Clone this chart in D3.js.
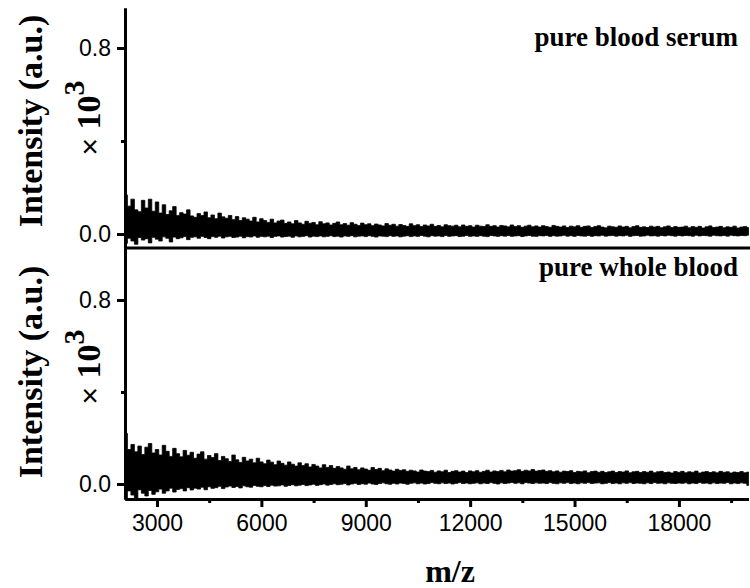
<!DOCTYPE html>
<html>
<head>
<meta charset="utf-8">
<script src="https://cdn.jsdelivr.net/npm/d3@7"></script>
<style>
  body { margin: 0; background: #fff; }
  svg { display: block; }
</style>
</head>
<body>
<svg id="chart" width="750" height="588"></svg>
<script>
// m/z bins: first bin centre and bin width (m/z units)
const binStart = 2100;
const binStep = 100;

// intensity envelope per bin (max / min), in 10^-3 units of the axis
const serumHi = [
  168,120,150,104,96,145,112,150,98,138,90,126,84,100,118,80,92,86,104,78,
  72,88,80,95,70,82,66,90,74,68,80,62,75,58,70,64,56,72,52,66,
  58,50,64,48,56,60,46,52,44,58,48,42,55,46,50,40,53,44,48,39,
  46,52,40,45,38,49,42,37,47,40,44,36,43,39,35,45,38,42,34,41,
  37,33,44,36,40,32,39,35,42,33,37,31,40,36,34,38,31,39,33,36,
  30,38,34,32,40,33,36,30,37,35,31,39,32,36,29,34,38,31,35,30,
  36,32,29,37,33,30,35,28,34,31,36,29,33,35,28,32,36,30,27,34,
  31,29,35,30,33,27,32,36,29,31,28,34,30,33,27,31,35,28,32,29,
  30,34,27,32,29,33,26,31,35,28,30,33,27,31,29,34,26,30,32,28
];
const serumLo = [
  -40,-18,-30,-44,-15,-26,-20,-38,-14,-22,-30,-12,-18,-34,-13,-20,-16,-11,-24,-14,
  -12,-18,-10,-15,-20,-11,-14,-9,-17,-12,-10,-15,-13,-9,-16,-11,-13,-8,-14,-10,
  -12,-9,-15,-10,-8,-13,-11,-9,-14,-8,-12,-10,-7,-13,-9,-11,-8,-12,-10,-7,
  -11,-9,-13,-8,-10,-7,-12,-9,-8,-11,-7,-10,-13,-8,-9,-11,-7,-10,-8,-12,
  -9,-7,-11,-8,-10,-6,-9,-12,-7,-9,-8,-11,-6,-10,-8,-7,-11,-9,-6,-10,
  -8,-10,-7,-9,-11,-6,-8,-10,-7,-9,-6,-10,-8,-7,-11,-8,-6,-9,-10,-7,
  -8,-6,-10,-7,-9,-8,-5,-9,-7,-10,-6,-8,-9,-6,-10,-7,-8,-5,-9,-7,
  -6,-9,-7,-8,-5,-10,-7,-6,-9,-8,-5,-8,-7,-9,-6,-8,-5,-7,-9,-6,
  -8,-6,-7,-9,-5,-8,-6,-7,-9,-5,-7,-8,-6,-9,-5,-7,-8,-6,-7,-5
];
const bloodHi = [
  220,150,172,140,165,128,160,176,135,150,126,168,142,120,155,132,118,146,125,138,
  112,130,140,108,124,115,132,102,120,110,98,126,105,94,116,100,108,92,112,96,
  88,104,95,84,100,90,82,96,86,78,92,80,88,74,85,78,70,84,72,80,
  68,76,70,64,78,66,72,62,70,65,60,72,63,68,58,66,61,56,64,59,
  62,55,60,57,52,61,56,54,59,51,57,53,60,50,55,58,52,56,50,57,
  53,58,51,55,60,52,57,54,59,53,61,56,58,62,55,60,57,63,56,59,
  61,55,58,53,57,51,56,54,58,50,55,53,57,49,54,56,51,55,50,53,
  56,50,54,52,57,49,53,55,50,54,51,56,49,53,55,50,52,48,54,51,
  55,49,53,51,56,48,52,54,50,53,49,55,51,53,48,52,50,54,49,52
];
const bloodLo = [
  -60,-30,-48,-66,-25,-40,-52,-28,-45,-34,-22,-40,-30,-18,-35,-24,-20,-30,-16,-26,
  -18,-22,-14,-25,-12,-19,-16,-10,-20,-13,-9,-15,-11,-17,-8,-12,-14,-6,-10,-12,
  -7,-11,-5,-9,-8,-4,-10,-6,-3,-8,-5,-2,-7,-4,-1,-6,-3,0,-5,-2,
  1,-3,-1,2,-4,0,3,-2,1,-1,4,0,-2,2,5,1,-1,3,0,4,
  2,-1,3,5,1,4,0,2,6,3,1,5,2,4,0,3,6,2,4,1,
  3,5,1,4,2,6,3,0,5,2,4,7,3,5,1,6,4,2,5,3,
  4,2,6,3,1,5,3,6,2,4,1,5,3,6,2,4,5,1,3,6,
  2,4,1,5,3,6,2,4,3,1,5,2,6,3,4,1,5,3,2,4,
  3,5,1,4,2,6,3,4,1,5,2,4,3,6,1,4,2,5,3,-6
];

const xMajor = [3000, 6000, 9000, 12000, 15000, 18000];
const xMinor = [4500, 7500, 10500, 13500, 16500, 19500];
const yMajor = [0, 0.8];
const yMinor = [0.4];
const panelNames = ['pure blood serum', 'pure whole blood'];

const svg = d3.select('#chart');
const serif = '"Liberation Serif", "Times New Roman", serif';
const sans = '"Liberation Sans", Arial, sans-serif';

const x = d3.scaleLinear().domain([2080, 20000]).range([125, 748.5]);

const panels = [
  { name: panelNames[0], hi: serumHi, lo: serumLo,
    y: d3.scaleLinear().domain([-0.06, 0.972]).range([248, 8]) },
  { name: panelNames[1], hi: bloodHi, lo: bloodLo,
    y: d3.scaleLinear().domain([-0.0652, 1.026]).range([499, 248]) }
];

function styleAxis(g) {
  g.select('.domain').attr('stroke', '#000').attr('stroke-width', 3);
  g.selectAll('.tick line').attr('stroke', '#000').attr('stroke-width', 3);
  g.selectAll('.tick text')
    .attr('fill', '#000')
    .style('font-family', sans)
    .style('font-size', '23px');
}

panels.forEach((p, k) => {
  const data = p.hi.map((h, i) => ({ mz: binStart + i * binStep, hi: h / 1000, lo: p.lo[i] / 1000 }));

  // min/max envelope drawn as a stepped band so the edges read as spikes
  const area = d3.area()
    .curve(d3.curveStep)
    .x(d => x(d.mz))
    .y0(d => p.y(d.lo))
    .y1(d => p.y(d.hi));

  svg.append('path')
    .datum(data)
    .attr('d', area)
    .attr('fill', '#000')
    .attr('stroke', '#000')
    .attr('stroke-width', 0.8);

  // y axis
  svg.append('g')
    .attr('transform', 'translate(125,0)')
    .call(d3.axisLeft(p.y).tickValues(yMajor).tickFormat(d3.format('.1f')).tickSize(8).tickSizeOuter(0).tickPadding(6))
    .call(styleAxis);
  svg.append('g')
    .attr('transform', 'translate(125,0)')
    .call(d3.axisLeft(p.y).tickValues(yMinor).tickFormat('').tickSize(4).tickSizeOuter(0))
    .call(styleAxis);

  // panel label
  svg.append('text')
    .attr('x', 738)
    .attr('y', k === 0 ? 46 : 276)
    .attr('text-anchor', 'end')
    .style('font-family', serif)
    .style('font-weight', 'bold')
    .style('font-size', '27px')
    .text(p.name);

  // y title
  const cy = k === 0 ? 121 : 372;
  svg.append('text')
    .attr('transform', `translate(30,${cy}) rotate(-90)`)
    .attr('text-anchor', 'middle')
    .attr('dominant-baseline', 'central')
    .style('font-family', serif)
    .style('font-weight', 'bold')
    .style('font-size', '34px')
    .text('Intensity (a.u.)');

  const cy2 = k === 0 ? 118 : 367;
  const mult = svg.append('text')
    .attr('transform', `translate(100,${cy2}) rotate(-90)`)
    .attr('text-anchor', 'middle')
    .style('font-family', serif)
    .style('font-weight', 'bold')
    .style('font-size', '34px');
  mult.append('tspan').style('font-family', sans).style('font-weight', 'normal').style('font-size', '30px').text('\u00d7 ');
  mult.append('tspan').text('10');
  mult.append('tspan').attr('dy', -16).style('font-size', '30px').text('3');
});

// separator between the panels
svg.append('line')
  .attr('x1', x.range()[0]).attr('x2', 750)
  .attr('y1', 248).attr('y2', 248)
  .attr('stroke', '#000').attr('stroke-width', 3);

// x axis
svg.append('g')
  .attr('transform', 'translate(0,499)')
  .call(d3.axisBottom(x).tickValues(xMajor).tickFormat(d3.format('d')).tickSize(8).tickSizeOuter(0).tickPadding(8))
  .call(styleAxis);
svg.append('g')
  .attr('transform', 'translate(0,499)')
  .call(d3.axisBottom(x).tickValues(xMinor).tickFormat('').tickSize(4).tickSizeOuter(0))
  .call(styleAxis);

svg.append('text')
  .attr('x', 450)
  .attr('y', 582)
  .attr('text-anchor', 'middle')
  .style('font-family', serif)
  .style('font-weight', 'bold')
  .style('font-size', '32px')
  .text('m/z');
</script>
</body>
</html>
